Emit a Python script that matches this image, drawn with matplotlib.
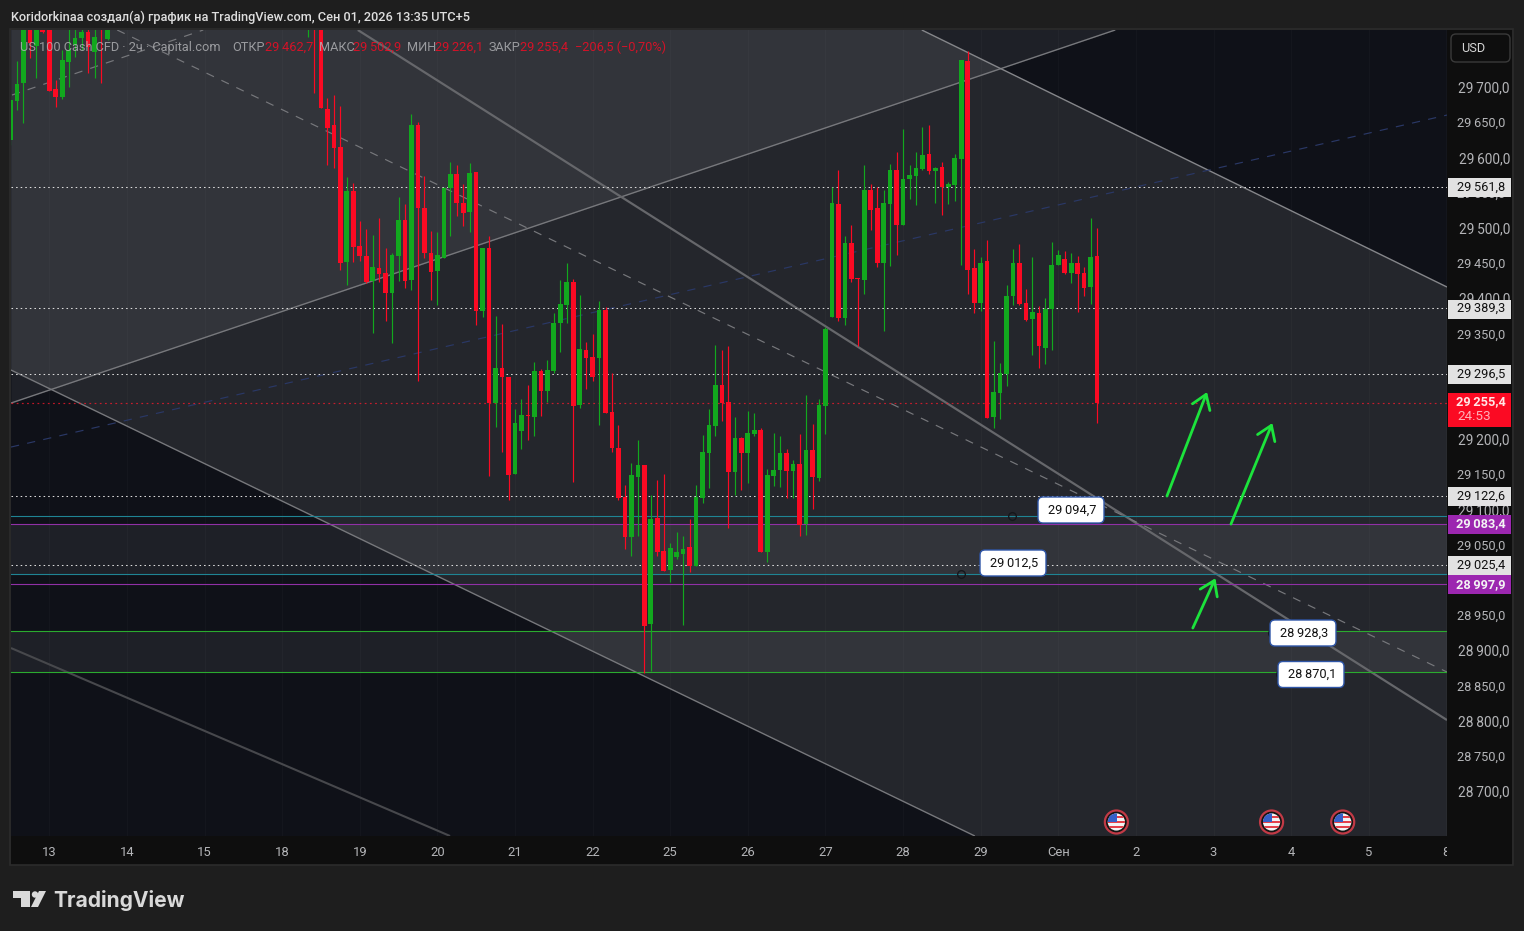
import numpy as np
import matplotlib
matplotlib.use("Agg")
import matplotlib.pyplot as plt
from matplotlib.patches import Rectangle, FancyBboxPatch, Circle, Polygon
from matplotlib.transforms import Affine2D

plt.rcParams['font.family'] = ['Roboto', 'DejaVu Sans']

# ---------- candles (price values) ----------
bars_start_a = -6
opens_a = [29626,29682,29707,29804,29760,29789,29797,29699,29687,29737,29761,29771,29780,29751,29797,29770]
highs_a = [29690,29738,29811,29818,29818,29797,29811,29711,29754,29797,29789,29789,29789,29789,29811,29811]
lows_a = [29619,29669,29650,29743,29714,29778,29696,29673,29684,29701,29744,29754,29721,29714,29707,29768]
closes_a = [29683,29706,29797,29764,29804,29780,29696,29687,29740,29754,29771,29780,29758,29772,29785,29804]

bars_start_b = 40
opens_b = [29789,29804,29797,29670,29647,29616,29453,29554,29476,29461,
 29426,29444,29437,29409,29461,29512,29427,29647,29530,29466,
 29440,29459,29558,29578,29537,29524,29581,29383,29473,29253,
 29302,29289,29152,29213,29235,29233,29298,29270,29298,29366,
 29392,29424,29250,29328,29318,29316,29385,29240,29189,29119,
 29062,29147,29164,28939,29089,29042,29015,29034,29038,29048,
 29021,29118,29182,29220,29278,29254,29155,29203,29182,29209,
 29214,29041,29149,29157,29182,29156,29166,29081,29186,29146,
 29248,29375,29535,29373,29480,29430,29427,29555,29530,29451,
 29535,29584,29505,29571,29575,29585,29606,29582,29588,29559,
 29562,29599,29738,29444,29395,29454,29233,29267,29294,29405,
 29451,29395,29372,29380,29331,29386,29449,29457,29437,29451,
 29437,29417,29461]
highs_b = [29811,29811,29811,29686,29690,29674,29574,29565,29511,29500,
 29491,29515,29473,29466,29545,29535,29663,29652,29575,29497,
 29495,29559,29595,29591,29564,29593,29581,29473,29490,29376,
 29365,29289,29244,29258,29278,29311,29301,29314,29380,29427,
 29451,29429,29406,29339,29351,29397,29389,29295,29221,29136,
 29167,29200,29164,29122,29143,29152,29054,29069,29064,29088,
 29136,29207,29244,29335,29328,29334,29233,29204,29241,29238,
 29217,29159,29210,29206,29187,29172,29209,29264,29223,29258,
 29360,29559,29584,29490,29505,29430,29591,29564,29559,29555,
 29592,29609,29642,29591,29609,29645,29647,29588,29595,29566,
 29606,29740,29753,29471,29460,29484,29341,29309,29420,29471,
 29478,29414,29460,29390,29402,29481,29470,29468,29466,29461,
 29446,29515,29501]
lows_b = [29772,29693,29672,29591,29586,29441,29420,29453,29454,29423,
 29352,29424,29369,29338,29426,29416,29413,29284,29459,29399,
 29392,29459,29490,29518,29504,29495,29363,29375,29149,29218,
 29183,29115,29152,29187,29200,29206,29234,29254,29295,29325,
 29366,29140,29245,29272,29284,29221,29238,29183,29115,29045,
 29035,29064,28869,28872,29035,29014,28998,29031,28937,29012,
 29021,29110,29132,29206,29227,29075,29122,29129,29139,29206,
 29041,29027,29135,29133,29118,29118,29064,29065,29102,29142,
 29209,29375,29369,29363,29424,29334,29407,29498,29446,29355,
 29447,29463,29505,29542,29534,29584,29578,29537,29520,29535,
 29539,29449,29407,29380,29383,29231,29217,29230,29277,29392,
 29392,29369,29321,29302,29308,29328,29449,29436,29423,29382,
 29405,29393,29224]
closes_b = [29804,29790,29672,29643,29615,29451,29554,29474,29461,29424,
 29446,29436,29409,29463,29512,29426,29647,29530,29466,29439,
 29463,29558,29578,29537,29522,29579,29383,29473,29253,29302,
 29289,29150,29224,29235,29234,29298,29270,29299,29366,29393,
 29424,29248,29329,29316,29289,29385,29238,29189,29118,29062,
 29150,29164,28936,29088,29041,29014,29047,29041,29045,29021,
 29119,29183,29221,29278,29253,29155,29203,29182,29210,29214,
 29041,29150,29157,29182,29156,29166,29079,29186,29147,29250,
 29358,29537,29373,29480,29429,29429,29555,29527,29451,29537,
 29584,29505,29571,29576,29586,29605,29582,29586,29559,29564,
 29601,29740,29441,29395,29451,29231,29268,29295,29405,29451,
 29393,29370,29382,29334,29386,29449,29463,29437,29451,29436,
 29416,29460,29253]
READ_BIAS = 2.2   # correction of the pixel reading against the O/H/L/C in the legend

# ---------- levels, drawings ----------
dotted_levels = [29561.8, 29389.3, 29296.5, 29122.6, 29025.4]
last_price = 29255.4
teal_levels = [29094.7, 29012.5]
purple_levels = [29083.4, 28997.9]
green_levels = [28931.0, 28872.3]
band_one = (29012.5, 29083.4)
band_two = (28872.3, 28931.0)

rising_solid = [(-5.92, 29254.8), (164.8, 29784.7)]
rising_dashed = [(-5.77, 29692.3), (23.8, 29784.7)]
blue_dashed = [(-5.92, 29192.3), (216.1, 29663.9)]
fall_top = [(134.9, 29784.7), (216.1, 29419.6)]
fall_low = [(-5.92, 29301.7), (143.1, 28639.8)]
fall_mid = [(10.5, 29784.7), (216.1, 28872.7)]
fall_trend = [(47.7, 29784.7), (216.1, 28804.5)]
fall_lowest = [(-5.92, 28906.8), (61.96, 28639.8)]
arrows = [((172.8, 29122.7), (179.0, 29270.5)),
          ((182.7, 29082.9), (189.1, 29226.4)),
          ((176.8, 28935.2), (180.3, 29006.0))]
point_labels = [(148.9, 29094.7, "29\u2009094,7", 1038, 510),
                (140.9, 29012.5, "29\u2009012,5", 980, 563),
                (189.0, 28928.3, "28\u2009928,3", 1270, 633),
                (190.3, 28870.1, "28\u2009870,1", 1278, 674.5)]

price_ticks = [28700, 28750, 28800, 28850, 28900, 28950, 29050, 29100, 29150, 29200,
               29350, 29400, 29450, 29500, 29550, 29600, 29650, 29700]
time_ticks = [0, 12, 24, 36, 48, 60, 72, 84, 96, 108, 120, 132, 144, 156, 168, 180, 192, 204, 216]
time_labels = ["13", "14", "15", "18", "19", "20", "21", "22", "25", "26", "27", "28", "29",
               "Сен", "2", "3", "4", "5", "8"]
flag_bars = [165, 189, 200]
title = "Koridorkinaa создал(а) график на TradingView.com, Сен 01, 2026 13:35 UTC+5"

# ---------- layout ----------
W, H = 1524, 931
BG, STRIP, BASE = '#1e1e1e', '#0e0e0e', '#0f1118'
GREEN, RED = '#12a81e', '#fb0a23'
TXT = '#b4b5b8'
fig = plt.figure(figsize=(W/100, H/100), dpi=100, facecolor=BG)
PX = Affine2D().scale(1, -1).translate(0, H)
L, R, T, B = 11, 1447, 30, 836
ax = fig.add_axes([L/W, 1-B/H, (R-L)/W, (B-T)/H], facecolor=BASE)
XLIM = (-5.92, 216.1)
YLIM = (28639.8, 29784.7)
ax.set_xlim(*XLIM); ax.set_ylim(*YLIM)
ax.set_xticks([]); ax.set_yticks([])
for sp in ax.spines.values():
    sp.set_visible(False)

def py(p):
    return 89.6 + (29700 - p) * 0.704

def bx(i):
    return 49.3 + 6.467 * i

def line_at(seg, x):
    (x0, y0), (x1, y1) = seg
    return y0 + (y1 - y0) * (np.asarray(x) - x0) / (x1 - x0)

fig.add_artist(Rectangle((L, B), 1501, 29, transform=PX, fc=STRIP, ec='none', zorder=-5))
fig.add_artist(Rectangle((R, T), 65, 835, transform=PX, fc=STRIP, ec='none', zorder=-5))
fig.add_artist(Rectangle((L-1, T-1), 1503, 836, transform=PX, fc='none', ec='#2c2c2c', lw=1.2, zorder=-4))

xs = np.linspace(*XLIM, 800)
ax.fill_between(xs, line_at(rising_solid, xs), YLIM[1] + 500, color='white', alpha=0.065, lw=0, zorder=1)
ax.fill_between(xs, line_at(fall_low, xs), line_at(fall_top, xs), color='white', alpha=0.09, lw=0, zorder=1)
for lo, hi in (band_one, band_two):
    ax.fill_between(XLIM, lo, hi, color='white', alpha=0.065, lw=0, zorder=1.2)

for t in time_ticks:
    ax.axvline(t, color='white', alpha=0.025, lw=0.8, zorder=1.3)

def seg_line(seg, **kw):
    ax.plot(*zip(*seg), solid_capstyle='butt', **kw)

seg_line(rising_solid, color='#77787c', lw=1.0, zorder=2)
seg_line(fall_top, color='#85868a', lw=1.0, zorder=2)
seg_line(fall_low, color='#77787c', lw=1.0, zorder=2)
seg_line(fall_trend, color='#66676b', lw=1.6, zorder=2)
seg_line(fall_lowest, color='#47484c', lw=1.5, zorder=2)
seg_line(rising_dashed, color='#77787c', lw=0.85, ls=(0, (7, 7)), zorder=2)
seg_line(fall_mid, color='#77787c', lw=0.85, ls=(0, (7, 7)), zorder=2)
seg_line(blue_dashed, color='#2a3866', lw=0.85, ls=(0, (7, 7)), zorder=2)

dot = (0, (1.5, 2.9))
for v in dotted_levels:
    ax.axhline(v, color='#dcdcdc', lw=0.75, ls=dot, zorder=2.2)
ax.axhline(last_price, color='#ff1a2d', lw=0.85, ls=dot, alpha=0.75, zorder=2.2)
for v in teal_levels:
    ax.axhline(v, color='#1f8494', lw=0.8, zorder=2.2)
for v in purple_levels:
    ax.axhline(v, color='#9030a6', lw=0.8, zorder=2.2)
for v in green_levels:
    ax.axhline(v, color='#2bab2f', lw=0.8, zorder=2.2)

# candles
for start, o, h, l, c in ((bars_start_a, opens_a, highs_a, lows_a, closes_a),
                          (bars_start_b, opens_b, highs_b, lows_b, closes_b)):
    o, h, l, c = [np.array(a, float) + READ_BIAS for a in (o, h, l, c)]
    idx = start + np.arange(len(o))
    col = np.where(c >= o, GREEN, RED)
    ax.vlines(idx, l, h, colors=col, lw=0.85, zorder=3)
    ax.bar(idx, np.maximum(np.abs(c - o), 0.9), bottom=np.minimum(o, c), width=0.72,
           color=col, lw=0, zorder=3.1)

# arrows
for a, b in arrows:
    ax.annotate('', xy=b, xytext=a, zorder=4,
                arrowprops=dict(arrowstyle='->,head_length=0.62,head_width=0.42', color='#1ce33c',
                                lw=2.0, mutation_scale=16, shrinkA=0, shrinkB=0))

# anchored value labels
for bar, price, s, x0, yc in point_labels:
    fig.add_artist(FancyBboxPatch((x0+3, yc-10), 60, 20, boxstyle='round,pad=3,rounding_size=5', transform=PX,
                                  fc='white', ec='#2f56a8', lw=1.0, zorder=4))
    fig.text(x0+34, yc, s, transform=PX, ha='center', va='center', color='#111', fontsize=9.2, zorder=5)
    ax.plot([bar], [price], 'o', ms=5.5, mfc='none', mec='#15171c', mew=1, zorder=5.5, clip_on=False)

# flags
for b in flag_bars:
    cx, cy = bx(b), 822
    fig.add_artist(Circle((cx, cy), 11.5, transform=PX, fc='#141414', ec='#c23a46', lw=1.6, zorder=4))
    fig.add_artist(Circle((cx, cy), 8.6, transform=PX, fc='#f3f3f3', ec='none', zorder=4.1))
    c0 = Circle((cx, cy), 8.6, transform=PX)
    for k in (-6.5, -1.5, 3.5):
        r = Rectangle((cx-9, cy+k), 18, 2.6, transform=PX, fc='#e4404a', ec='none', zorder=4.2)
        fig.add_artist(r); r.set_clip_path(c0)
    r = Rectangle((cx-9, cy-9), 9.5, 8.5, transform=PX, fc='#3560c8', ec='none', zorder=4.3)
    fig.add_artist(r); r.set_clip_path(c0)

# price scale
for p in price_ticks:
    s = f"{p//1000}\u2009{p%1000:03d},0"
    big = p % 100 == 0
    fig.text(1510 if big else 1505.5, py(p)-1.2, s, transform=PX, ha='right', va='center',
             color=TXT, fontsize=9.9 if big else 9.2, zorder=6)

fig.add_artist(FancyBboxPatch((1453, 36), 55, 24, boxstyle='round,pad=2,rounding_size=5', transform=PX,
                              fc=STRIP, ec='#3a3a3a', lw=1, zorder=6))
fig.text(1461, 49, "USD", transform=PX, ha='left', va='center', color='#d4d4d4', fontsize=9.2, zorder=7)

def level_box(value, fc, tc, weight='normal'):
    yc = py(value) + 0.9
    fig.add_artist(Rectangle((1448, yc-9.5), 63, 19, transform=PX, fc=fc, ec='none', zorder=8))
    s = f"{int(value)//1000}\u2009{int(value)%1000:03d},{int(round(value*10))%10}"
    fig.text(1505.5, yc-0.5, s, transform=PX, ha='right', va='center', color=tc, fontsize=9.2, weight=weight, zorder=9)

for v in dotted_levels:
    level_box(v, '#e2e2e2', '#111111')
for v in purple_levels:
    level_box(v, '#9c27b0', '#f4f4f4', 'bold')
fig.add_artist(Rectangle((1448, 393), 63, 34, transform=PX, fc=RED, ec='none', zorder=8))
fig.text(1505.5, 402, "29\u2009255,4", transform=PX, ha='right', va='center', color='#ffe6e6', fontsize=9.2, weight='bold', zorder=9)
fig.text(1457, 417, "24:53", transform=PX, ha='left', va='center', color='#ffb0b8', fontsize=9.7, zorder=9)

# time scale
for t, s in zip(time_ticks, time_labels):
    x = bx(t)
    txt = fig.text(x, 852.5, s, transform=PX, ha='center', va='center', color=TXT, fontsize=9.4, zorder=6)
    if x > 1440:
        txt.set_clip_path(Rectangle((0, 830), R, 40, transform=PX))

# header and legend
fig.text(11, 17, title, transform=PX, ha='left', va='center', color='#dedede', fontsize=9.2, weight='medium', zorder=9)
legend_y = 47.5
for x, s, c in [(20, "US 100 Cash CFD · 2ч · Capital.com", TXT),
                (232, "ОТКР", TXT), (265, "29\u2009462,7", RED),
                (319, "МАКС", TXT), (353, "29\u2009502,9", RED),
                (407, "МИН", TXT), (435, "29\u2009226,1", RED),
                (489, "ЗАКР", TXT), (520, "29\u2009255,4", RED),
                (575, "−206,5 (−0,70%)", RED)]:
    fig.text(x, legend_y, s, transform=PX, ha='left', va='center', color=c, alpha=0.8, fontsize=9.2, zorder=9)

# watermark
LOGO = '#d9d9d9'
fig.add_artist(Polygon([(13, 891), (30, 891), (30, 907), (21, 907), (21, 898), (13, 898)], transform=PX, fc=LOGO, ec='none'))
fig.add_artist(Circle((35, 894.5), 3.2, transform=PX, fc=LOGO, ec='none'))
fig.add_artist(Polygon([(39, 891), (46, 891), (38, 907), (31, 907)], transform=PX, fc=LOGO, ec='none'))
fig.text(53, 900.5, "TradingView", transform=PX, ha='left', va='center', color=LOGO, fontsize=15.1,
         family=['Inter', 'DejaVu Sans'], weight='bold')

fig.savefig('out.png', dpi=100, facecolor=BG)
